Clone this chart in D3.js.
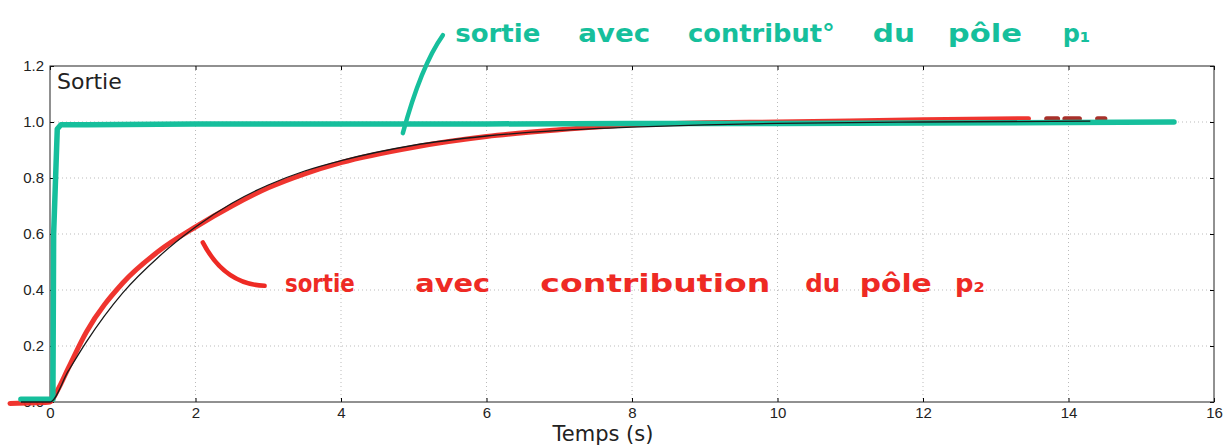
<!DOCTYPE html>
<html><head><meta charset="utf-8">
<script src="https://cdn.jsdelivr.net/npm/d3@7/dist/d3.min.js"></script>
<style>body{margin:0;background:#fff}svg{display:block}</style>
</head><body><svg id="c" width="1230" height="445"></svg>
<script>
// ---- data ----
const xTicks = [0,2,4,6,8,10,12,14,16];
const yTicks = [0.0,0.2,0.4,0.6,0.8,1.0,1.2];
const yTickLabels = ["0.0","0.2","0.4","0.6","0.8","1.0","1.2"];
const titleText = "Sortie";
const xLabel = "Temps (s)";
// green hand-drawn output (pole p1)
const greenT = [-0.4, 0.0, 0.04, 0.05, 0.1, 0.15, 0.5, 2, 4, 6, 8, 10, 12, 14, 15.45];
const greenY = [0.01, 0.01, 0.01, 0.6, 0.975, 0.99, 0.99, 0.993, 0.993, 0.993, 0.995, 0.995, 0.996, 0.998, 1.0];
// black theoretical curve
const blackT = [-0.4, 0.0, 0.25, 0.5, 1, 1.5, 2, 2.5, 3, 3.5, 4, 5, 6, 7, 8, 9, 10, 12, 14.3];
const blackY = [0.0, 0.0, 0.11, 0.215, 0.39, 0.52, 0.625, 0.71, 0.775, 0.825, 0.862, 0.917, 0.95, 0.97, 0.982, 0.99, 0.995, 1.0, 1.003];
// red hand-drawn output (pole p2)
const redT = [-0.55, -0.2, 0.0, 0.1, 0.25, 0.5, 1, 1.5, 2, 2.5, 3, 3.5, 4, 5, 6, 7, 8, 9, 10, 12, 13.45];
const redY = [-0.005, -0.003, 0.0, 0.04, 0.12, 0.25, 0.425, 0.54, 0.625, 0.7, 0.765, 0.815, 0.855, 0.91, 0.948, 0.972, 0.99, 0.997, 1.0, 1.008, 1.012];
const redBlobsStart = [13.7, 13.95, 14.4];
const redBlobsEnd = [13.85, 14.15, 14.5];
// handwritten notes: words and their span in time units
const greenNote = ["sortie","avec","contribut°","du","pôle","p₁"];
const greenNoteStart = [5.57, 7.26, 8.77, 11.31, 12.34, 13.92];
const greenNoteEnd   = [6.74, 8.25, 10.79, 11.89, 13.36, 14.3];
const redNote = ["sortie","avec","contribution","du","pôle","p₂"];
const redNoteStart = [3.23, 5.02, 6.74, 10.38, 11.13, 12.44];
const redNoteEnd   = [4.19, 6.05, 9.9, 10.86, 12.12, 12.85];

// ---- chart ----
const svg = d3.select("#c");
const x = d3.scaleLinear().domain([0,16]).range([50,1214]);
const y = d3.scaleLinear().domain([0,1.2]).range([402,66]);
const font = "DejaVu Sans, sans-serif";

// grid
const g = svg.append("g");
g.selectAll(".gx").data(xTicks.slice(1,-1)).join("line")
 .attr("x1",d=>x(d)).attr("x2",d=>x(d)).attr("y1",y(1.2)).attr("y2",y(0))
 .attr("stroke","#bbb").attr("stroke-width",1).attr("stroke-dasharray","1,3");
g.selectAll(".gy").data(yTicks.slice(1,-1)).join("line")
 .attr("y1",d=>y(d)).attr("y2",d=>y(d)).attr("x1",x(0)).attr("x2",x(16))
 .attr("stroke","#bbb").attr("stroke-width",1).attr("stroke-dasharray","1,3");

// axes (ticks inside)
const ax = svg.append("g").attr("font-family",font);
ax.append("g").attr("transform",`translate(0,${y(0)})`)
 .call(d3.axisBottom(x).tickValues(xTicks).tickSize(-4).tickPadding(5).tickFormat(d3.format("d")))
 .call(s=>{s.select(".domain").remove(); s.selectAll("text").attr("font-size",15).attr("fill","#222");});
ax.append("g").attr("transform",`translate(0,${y(1.2)})`)
 .call(d3.axisTop(x).tickValues(xTicks).tickSize(-4).tickFormat(""))
 .call(s=>s.select(".domain").remove());
ax.append("g").attr("transform",`translate(${x(0)},0)`)
 .call(d3.axisLeft(y).tickValues(yTicks).tickSize(-4).tickPadding(6).tickFormat((d,i)=>yTickLabels[i]))
 .call(s=>{s.select(".domain").remove(); s.selectAll("text").attr("font-size",15).attr("fill","#222");});
ax.append("g").attr("transform",`translate(${x(16)},0)`)
 .call(d3.axisRight(y).tickValues(yTicks).tickSize(-4).tickFormat(""))
 .call(s=>s.select(".domain").remove());
svg.append("rect").attr("x",x(0)).attr("y",y(1.2)).attr("width",x(16)-x(0)).attr("height",y(0)-y(1.2))
 .attr("fill","none").attr("stroke","#222").attr("stroke-width",1);

svg.append("text").attr("x",57).attr("y",89).attr("font-family",font).attr("font-size",22).attr("fill","#222").text(titleText);
svg.append("text").attr("x",603).attr("y",441).attr("text-anchor","middle").attr("font-family",font).attr("font-size",21).attr("fill","#222").text(xLabel);

const line = d3.line().x(d=>x(d[0])).y(d=>y(d[1])).curve(d3.curveMonotoneX);
const lineLin = d3.line().x(d=>x(d[0])).y(d=>y(d[1]));
const green = "#16bf9c";
const red = "#ee2a24";

// red hand line
svg.append("path").datum(redT.map((t,i)=>[t,redY[i]])).attr("d",line)
 .attr("fill","none").attr("stroke",red).attr("stroke-width",5).attr("stroke-linecap","round").attr("opacity",0.95);
redBlobsStart.forEach((s,i)=>{
  svg.append("path").datum([[s,1.012],[redBlobsEnd[i],1.012]]).attr("d",lineLin)
   .attr("fill","none").attr("stroke","#a8302a").attr("stroke-width",5).attr("stroke-linecap","round");
});
// green hand line
svg.append("path").datum(greenT.map((t,i)=>[t,greenY[i]])).attr("d",lineLin)
 .attr("fill","none").attr("stroke",green).attr("stroke-width",5.5).attr("stroke-linecap","round").attr("stroke-linejoin","round");
// black theoretical curve
svg.append("path").datum(blackT.map((t,i)=>[t,blackY[i]])).attr("d",line)
 .attr("fill","none").attr("stroke","#1a1a1a").attr("stroke-width",1.3);

// annotations
const hand = "DejaVu Sans, sans-serif";
svg.append("path").attr("d",`M${x(4.85)},${y(0.96)} Q${x(5.1)},${y(1.2)} ${x(5.4)},${y(1.31)}`)
 .attr("fill","none").attr("stroke",green).attr("stroke-width",4.5).attr("stroke-linecap","round");
svg.append("g").selectAll("text").data(greenNote).join("text")
 .attr("x",(d,i)=>x(greenNoteStart[i])).attr("y",42).attr("font-family",hand).attr("font-size",24)
 .attr("font-weight","bold").attr("fill",green)
 .attr("textLength",(d,i)=>x(greenNoteEnd[i])-x(greenNoteStart[i])).attr("lengthAdjust","spacingAndGlyphs").text(d=>d);
svg.append("path").attr("d",`M${x(2.1)},${y(0.57)} Q${x(2.4)},${y(0.42)} ${x(2.95)},${y(0.415)}`)
 .attr("fill","none").attr("stroke",red).attr("stroke-width",4.5).attr("stroke-linecap","round");
svg.append("g").selectAll("text").data(redNote).join("text")
 .attr("x",(d,i)=>x(redNoteStart[i])).attr("y",292).attr("font-family",hand).attr("font-size",24)
 .attr("font-weight","bold").attr("fill",red)
 .attr("textLength",(d,i)=>x(redNoteEnd[i])-x(redNoteStart[i])).attr("lengthAdjust","spacingAndGlyphs").text(d=>d);
</script></body></html>
